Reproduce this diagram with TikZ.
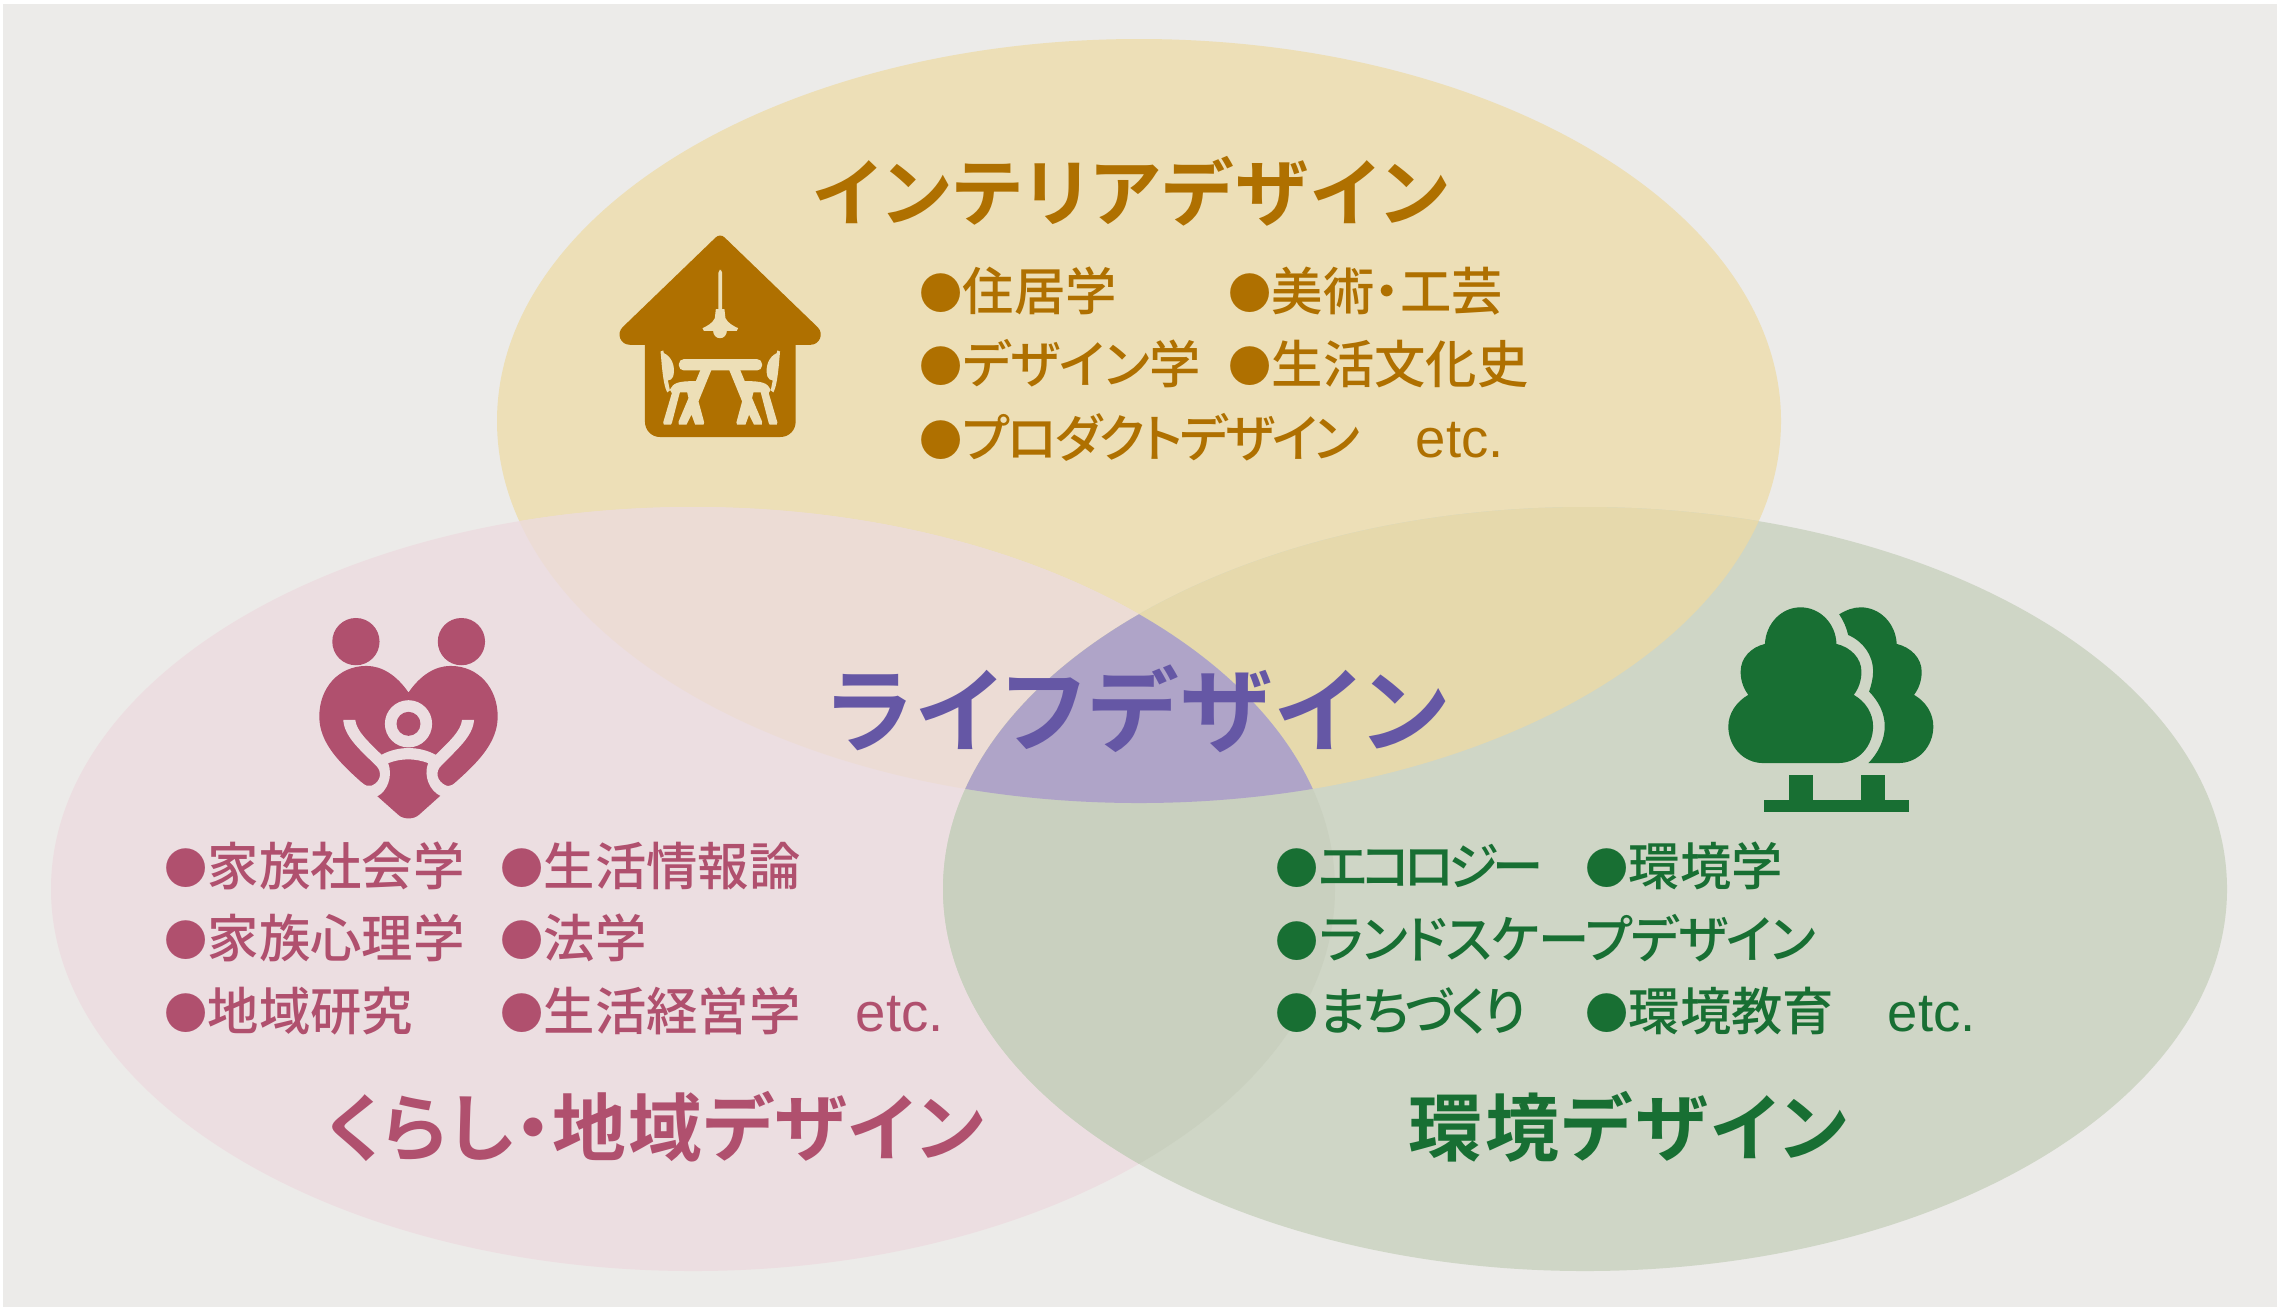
\documentclass[tikz,border=0pt]{standalone}
\usepackage{fontspec}
\setmainfont{Noto Sans CJK JP}
\newfontfamily\itemfont[RawFeature={+palt}]{Noto Sans CJK JP Medium}
\newfontfamily\titlefont[RawFeature={+palt},LetterSpace=4]{Noto Sans CJK JP Bold}
\newfontfamily\etcfont{Liberation Sans}
\definecolor{bgc}{HTML}{ECEBE9}
\definecolor{topc}{HTML}{EDDFB7}
\definecolor{leftc}{HTML}{ECDEE1}
\definecolor{rightc}{HTML}{CFD6C6}
\definecolor{tlc}{HTML}{ECDCD5}
\definecolor{trc}{HTML}{E6D9AC}
\definecolor{lrc}{HTML}{C9D0BF}
\definecolor{midc}{HTML}{AFA4C8}
\definecolor{brown}{HTML}{AF7000}
\definecolor{rose}{HTML}{B0506E}
\definecolor{forest}{HTML}{186F33}
\definecolor{violet}{HTML}{6557A5}
\tikzset{
 itemtext/.style={anchor=west,inner sep=0pt,font=\itemfont\fontsize{14.6}{16}\selectfont},
 etctext/.style={anchor=west,inner sep=0pt,font=\etcfont\fontsize{15.5}{16}\selectfont},
 titletext/.style={inner sep=0pt,font=\titlefont\fontsize{21}{24}\selectfont},
 midtext/.style={inner sep=0pt,font=\titlefont\fontsize{26.4}{30}\selectfont,text=violet},
 icon/.style={x=0.0033333cm,y=-0.0033333cm}
}
\newcommand{\bul}{\raisebox{0.3pt}{\scalebox{0.84}{●}}}
\newcommand{\tight}[2]{{\addfontfeature{LetterSpace=#1}#2}}
\newcommand{\tophalf}{%
 \fill[topc] (332,450) -- (365,450) -- (326,545) -- (343,608) -- (341,615) -- (316,615) -- (305,585) -- (290,615) -- (267,615) -- (266,606) -- (296,535) -- (292,518) -- (270,518) -- (246,610) -- (243,615) -- (222,615) -- (220,608) -- (246,520) -- (240,510) .. controls (250,490) and (262,484) .. (318,484) -- cycle;
 \fill[topc] (212,395) -- (220,392) -- (222,400) .. controls (245,410) and (258,440) .. (250,470) .. controls (248,478) and (240,482) .. (234,482) -- (240,512) -- (232,518) .. controls (225,505) and (220,480) .. (216,440) -- cycle;
}
\begin{document}
\begin{tikzpicture}[x=0.01cm,y=-0.01cm]
\useasboundingbox (0,0) rectangle (2280,1311);
\fill[white] (0,0) rectangle (2280,1311);
\fill[bgc] (3,4) rectangle (2277,1307);
% ellipses
\def\topE{(1139,421) ellipse [x radius=642,y radius=382]}
\def\leftE{(693,889) ellipse [x radius=642,y radius=382]}
\def\rightE{(1585,889) ellipse [x radius=642,y radius=382]}
\fill[topc] \topE;
\fill[leftc] \leftE;
\fill[rightc] \rightE;
\begin{scope}\clip \topE; \fill[tlc] \leftE; \fill[trc] \rightE; \end{scope}
\begin{scope}\clip \leftE; \fill[lrc] \rightE; \end{scope}
\begin{scope}\clip \topE; \clip \leftE; \fill[midc] \rightE; \end{scope}
% house icon
\begin{scope}[shift={(590,220)},icon]
\fill[brown] (378,52) .. controls (385,45) and (397,45) .. (404,52) -- (684,322) .. controls (704,342) and (690,375) .. (662,375) -- (618,375) -- (618,605) .. controls (618,632) and (598,652) .. (572,652) -- (210,652) .. controls (185,652) and (165,632) .. (165,605) -- (165,375) -- (120,375) .. controls (92,375) and (78,342) .. (98,322) -- cycle;
\fill[topc,rounded corners=0.8pt] (386,150) rectangle (397,275);
\fill[topc] (378,268) -- (404,268) -- (407,295) .. controls (415,310) and (430,318) .. (445,325) -- (441,333) -- (342,333) -- (338,325) .. controls (353,318) and (368,310) .. (375,295) -- cycle;
\fill[topc] (369,330) .. controls (369,364) and (413,364) .. (413,330) -- cycle;
\fill[topc,rounded corners=1.4pt] (267,418) rectangle (517,452);
\tophalf
\begin{scope}[shift={(783,0)},xscale=-1]\tophalf\end{scope}
\end{scope}
% heart icon
\begin{scope}[shift={(300,600)},icon]
\fill[rose] (168,125) circle [radius=71];
\fill[rose] (485,125) circle [radius=71];
\fill[rose] (326,278) .. controls (290,225) and (245,198) .. (200,198) .. controls (115,198) and (58,265) .. (58,350) .. controls (58,430) and (120,490) .. (190,552) -- (295,645) .. controls (310,660) and (342,660) .. (358,645) -- (462,552) .. controls (532,490) and (594,430) .. (594,350) .. controls (594,265) and (537,198) .. (452,198) .. controls (407,198) and (362,225) .. cycle;
\fill[leftc] (130,360) -- (166,360) .. controls (170,395) and (205,425) .. (245,465) .. controls (295,438) and (357,438) .. (408,465) .. controls (448,425) and (483,395) .. (487,360) -- (523,360) .. controls (520,410) and (470,450) .. (425,497) .. controls (405,515) and (410,545) .. (440,558) .. controls (450,560) and (460,555) .. (470,548) -- (480,600) -- (425,590) .. controls (390,575) and (370,530) .. (385,490) .. controls (345,475) and (305,475) .. (265,490) .. controls (280,530) and (262,575) .. (232,590) -- (175,600) -- (185,548) .. controls (195,558) and (205,560) .. (215,558) .. controls (245,545) and (247,515) .. (228,497) .. controls (180,450) and (133,410) .. (130,360) -- cycle;
\fill[leftc] (326,372) circle [radius=71];
\fill[rose] (326,372) circle [radius=36];
\end{scope}
% tree icon
\begin{scope}[shift={(1710,590)},icon]
\fill[forest] (160,520) .. controls (100,520) and (55,470) .. (55,410) .. controls (55,370) and (80,335) .. (115,315) .. controls (100,295) and (92,272) .. (92,245) .. controls (92,205) and (122,172) .. (165,162) .. controls (168,100) and (215,52) .. (272,52) .. controls (330,52) and (378,100) .. (380,162) .. controls (423,172) and (455,205) .. (455,245) .. controls (455,272) and (447,295) .. (432,315) .. controls (467,335) and (490,370) .. (490,410) .. controls (490,470) and (445,520) .. (385,520) -- cycle;
\fill[forest] (388,73) .. controls (410,60) and (430,52) .. (453,52) .. controls (510,52) and (558,100) .. (561,162) .. controls (604,172) and (636,205) .. (636,245) .. controls (636,272) and (628,295) .. (613,315) .. controls (648,335) and (671,370) .. (671,410) .. controls (671,470) and (626,520) .. (566,520) -- (476,520) .. controls (505,490) and (525,450) .. (525,410) .. controls (525,370) and (507,335) .. (478,305) .. controls (485,285) and (490,265) .. (490,245) .. controls (490,195) and (460,155) .. (415,135) .. controls (410,112) and (400,90) .. (388,73) -- cycle;
\fill[forest] (237,556) rectangle (310,640);
\fill[forest] (453,556) rectangle (526,640);
\fill[forest] (163,631) rectangle (598,668);
\end{scope}
% titles
\node[titletext,text=brown] (ttop) at (1131,191) {インテリアデザイン};
\node[titletext,text=rose] (tleft) at (655,1127) {\tight{1.8}{くらし・地域デザイン}};
\node[titletext,text=forest] (tright) at (1628,1127) {環境デザイン};
\node[midtext] (tmid) at (1138,709) {ライフデザイン};
% top items
\begin{scope}[text=brown]
\node[itemtext] (a1) at (919,291) {\bul 住居学};
\node[itemtext] (a2) at (1228,291) {\bul 美術・工芸};
\node[itemtext] (a3) at (919,364) {\bul \tight{-1}{デザイン}学};
\node[itemtext] (a4) at (1228,364) {\bul 生活文化史};
\node[itemtext] (a5) at (919,437) {\bul \tight{-5}{プロダクトデザイン}};
\node[etctext] (a6) at (1415,440) {etc.};
\end{scope}
% left items
\begin{scope}[text=rose]
\node[itemtext] (b1) at (164,866) {\bul 家族社会学};
\node[itemtext] (b2) at (500,866) {\bul 生活情報論};
\node[itemtext] (b3) at (164,938) {\bul 家族心理学};
\node[itemtext] (b4) at (500,938) {\bul 法学};
\node[itemtext] (b5) at (164,1011) {\bul 地域研究};
\node[itemtext] (b6) at (500,1011) {\bul 生活経営学};
\node[etctext] (b7) at (855,1014) {etc.};
\end{scope}
% right items
\begin{scope}[text=forest]
\node[itemtext] (c1) at (1275,866) {\bul \tight{-12}{エコロジー}};
\node[itemtext] (c2) at (1585,866) {\bul 環境学};
\node[itemtext] (c3) at (1275,938) {\bul \tight{-2}{ランドスケープデザイン}};
\node[itemtext] (c4) at (1275,1011) {\bul \tight{-6}{まちづくり}};
\node[itemtext] (c5) at (1585,1011) {\bul 環境教育};
\node[etctext] (c6) at (1887,1014) {etc.};
\end{scope}
\end{tikzpicture}
\end{document}
